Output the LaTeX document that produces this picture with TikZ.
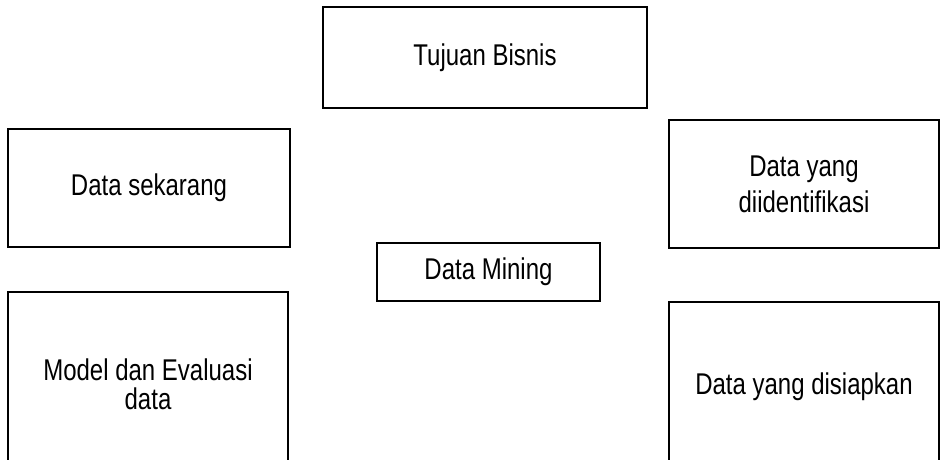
\documentclass[tikz,border=0pt]{standalone}
\usepackage{fontspec}
\setmainfont{Liberation Sans}[FakeStretch=0.8]
\begin{document}
\begin{tikzpicture}[x=1pt,y=-1pt,
  box/.style={draw=black, line width=1.6pt, rectangle, inner sep=0pt, align=center,
    font=\fontsize{30}{29}\selectfont}]
\clip (0,0) rectangle (940,460);
\fill[white] (0,0) rectangle (940,460);
\node[box, minimum width=324pt, minimum height=101pt] (tujuan) at (485,57.5) {Tujuan Bisnis};
\node[box, minimum width=282pt, minimum height=118pt] (sekarang) at (149,188) {Data sekarang};
\node[box, minimum width=270pt, minimum height=128pt, font=\fontsize{30}{36}\selectfont] (identif) at (804,184) {Data yang\\diidentifikasi};
\node[box, minimum width=223pt, minimum height=58pt] (mining) at (488.5,272) {Data Mining};
\node[box, minimum width=280pt, minimum height=184pt] (model) at (148,384) {Model dan Evaluasi\\data};
\node[box, minimum width=270pt, minimum height=170pt] (siapkan) at (804,387) {Data yang disiapkan};
\end{tikzpicture}
\end{document}
